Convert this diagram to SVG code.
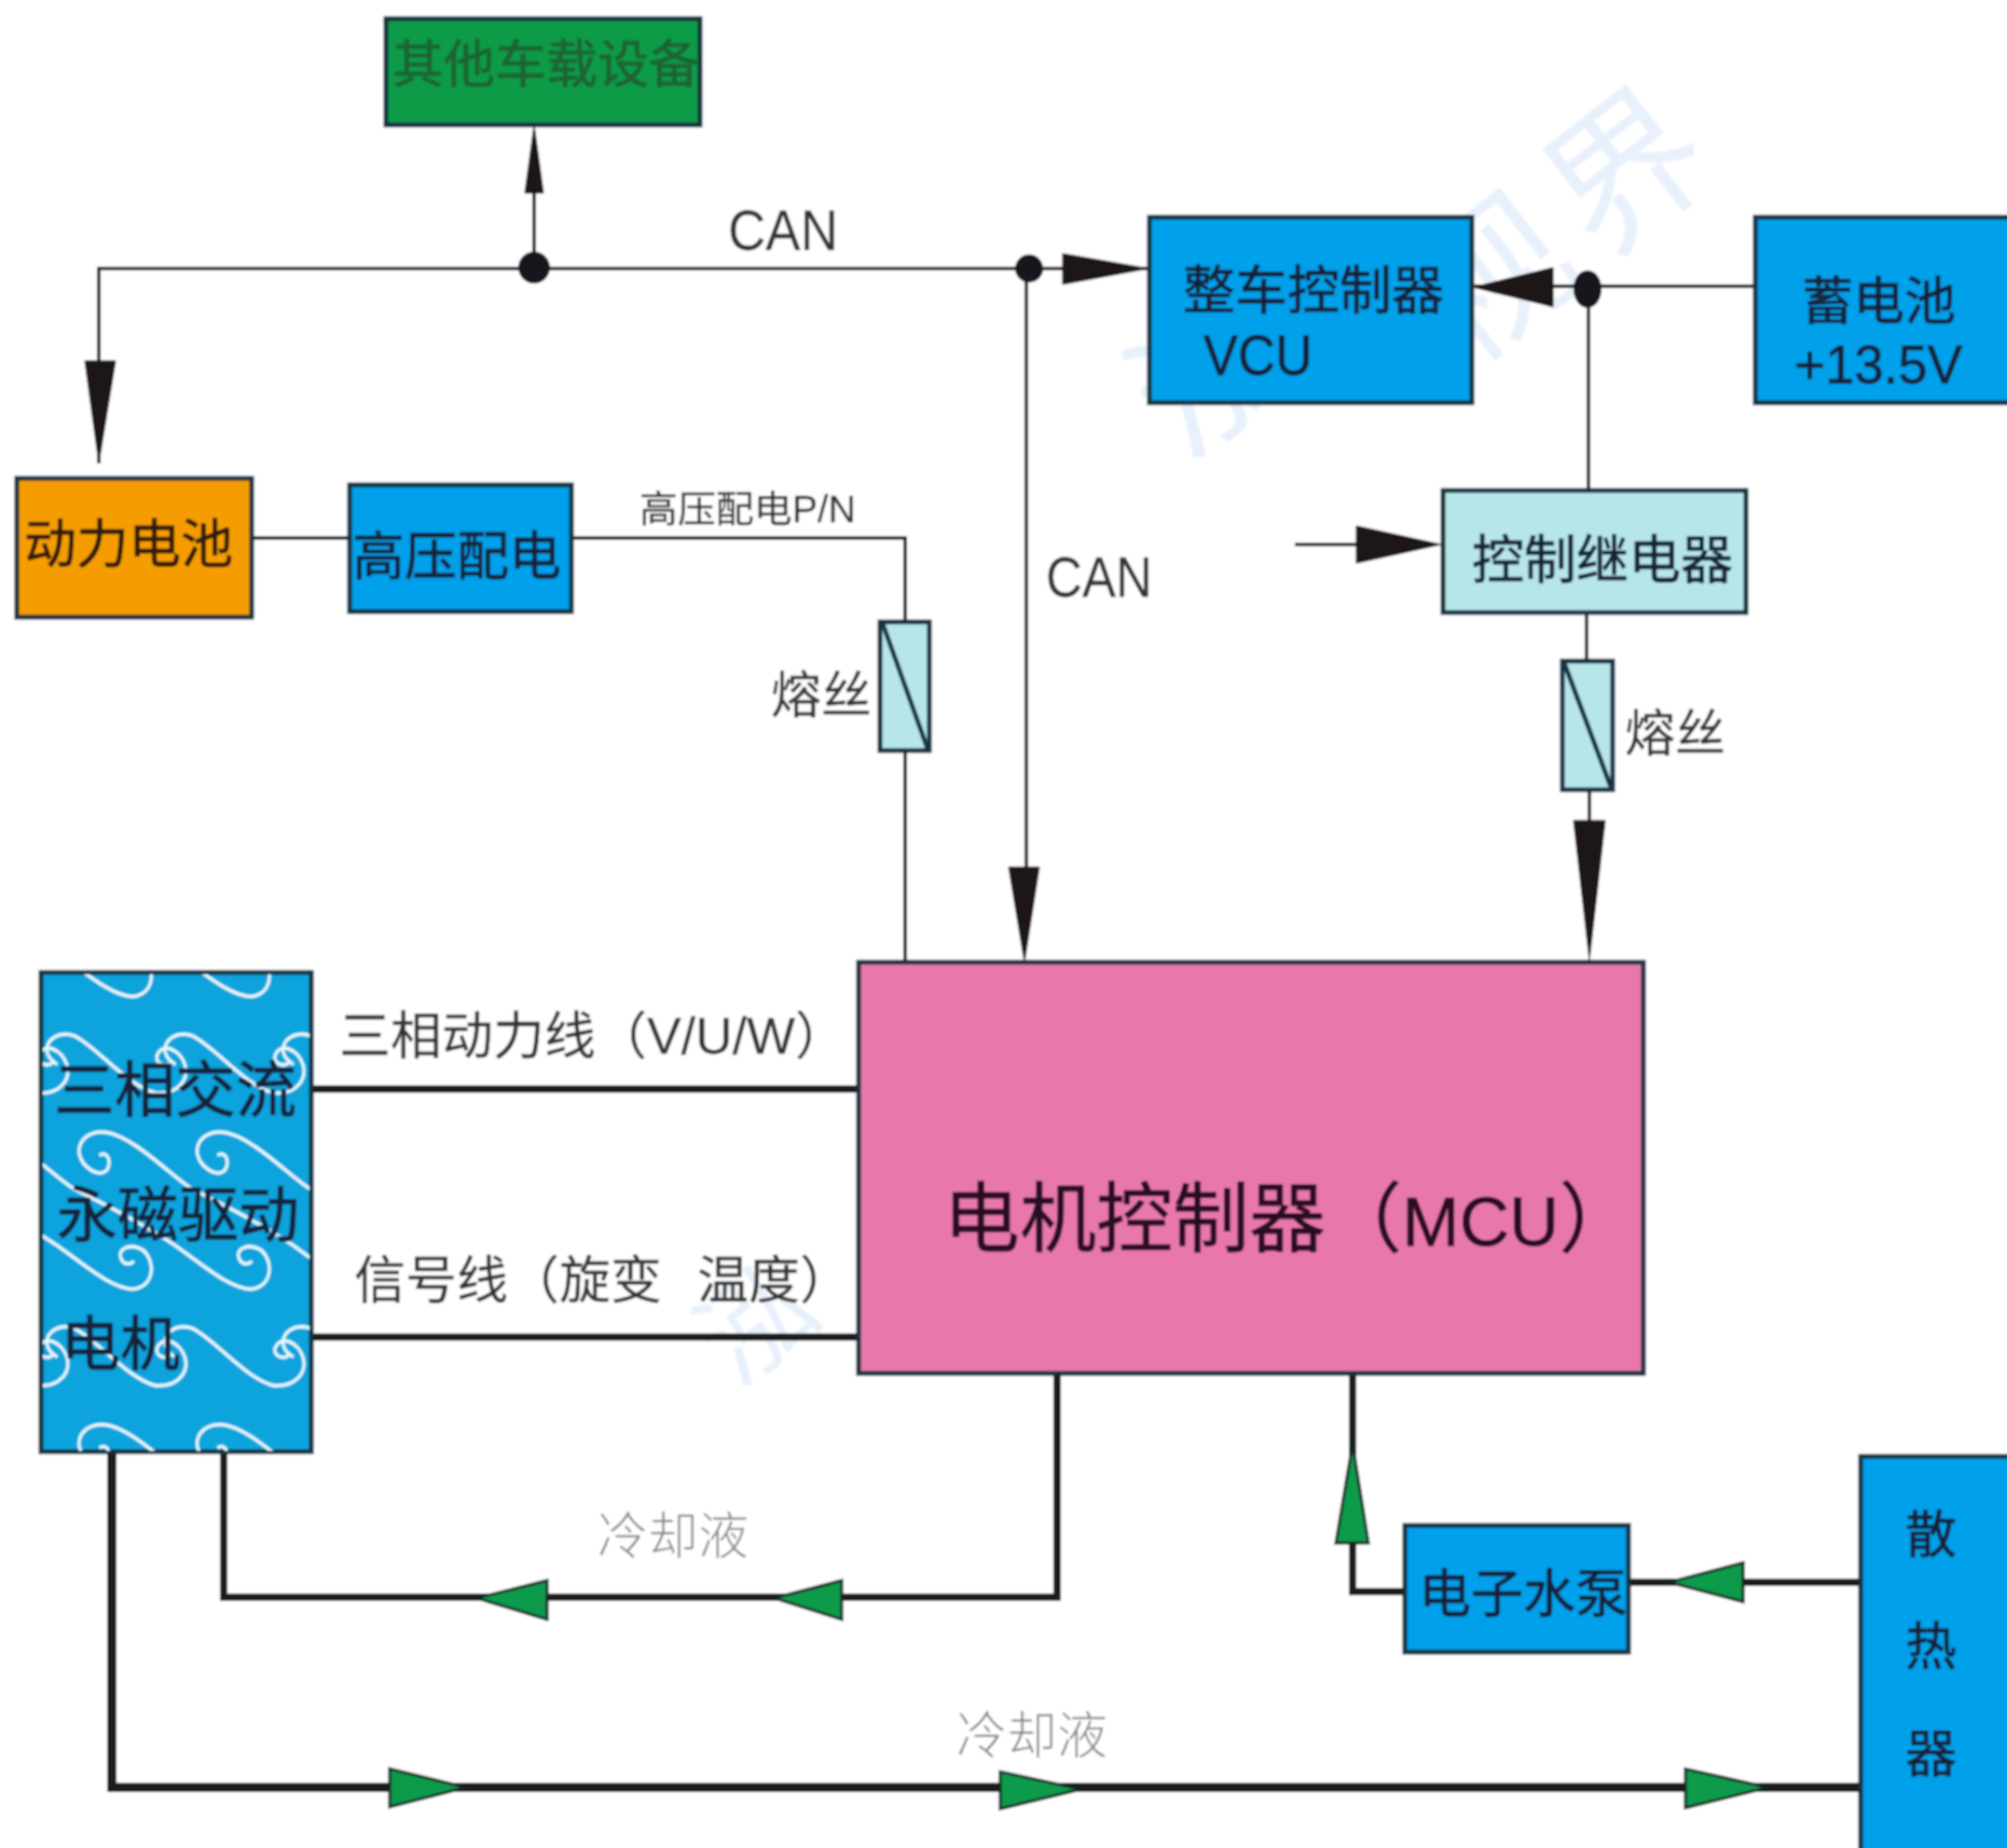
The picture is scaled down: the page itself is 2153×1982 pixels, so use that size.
<svg xmlns="http://www.w3.org/2000/svg" width="2153" height="1982" viewBox="0 0 2153 1982">
<style>
text{font-family:"Liberation Sans","Noto Sans CJK SC",sans-serif;fill:#14233a;stroke:#14233a;stroke-width:.9}
.box{stroke:#17303f;stroke-width:5}
.blue{fill:#04a0ea}
.pale{fill:#b6e6e8}
text.lab{fill:#333;stroke:#333;stroke-width:.3}
text.thin{font-family:"Noto Sans CJK SC",sans-serif;font-weight:300;fill:#8a8a8a;stroke:none}
text.wm{font-family:"Noto Sans CJK SC",sans-serif;font-size:165px;font-weight:400;fill:#e8f1fb;stroke:none}
.w1{fill:none;stroke:#1c1c1c;stroke-width:4}
.w2{fill:none;stroke:#1c1c1c;stroke-width:8}
.w3{fill:none;stroke:#1c1c1c;stroke-width:10}
.ab{fill:#1a1512;stroke:#1a1512;stroke-width:1}
.ag{fill:#0d9a4b;stroke:#16241c;stroke-width:3}
.dot{fill:#15141a}
.sw{fill:none;stroke:#e6f7fd;stroke-width:10}
.fl{fill:none;stroke:#123645;stroke-width:5}
</style>
<defs>
<filter id="soft" x="0" y="0" width="100%" height="100%"><feGaussianBlur stdDeviation="0.9"/></filter>
<clipPath id="motorClip"><rect x="46" y="1045" width="286" height="511"/></clipPath>
<path id="shortS" d="M565,1190C535,1175 520,1150 540,1125C560,1105 590,1100 620,1110C690,1140 790,1250 880,1270C950,1275 990,1235 975,1190C960,1150 905,1125 885,1165C880,1190 915,1200 935,1180"/>
<path id="longS" d="M320,625C345,610 360,640 345,665C320,690 265,660 255,620C250,580 290,555 340,560C430,570 560,690 620,720C760,780 880,840 940,875C1030,930 1120,1000 1190,1000C1260,990 1260,920 1220,890C1180,870 1135,885 1150,915C1160,935 1185,930 1190,920"/>
</defs>
<g filter="url(#soft)">
<rect width="2153" height="1982" fill="#fff"/>
<g id="watermark">
<text class="wm" transform="translate(1271,496) rotate(-38)">泓</text>
<text class="wm" transform="translate(1571,396) rotate(-38)">视</text>
<text class="wm" transform="translate(1716,281) rotate(-38)">界</text>
<text class="wm" font-size="120" style="font-size:120px" transform="translate(790,1490) rotate(-38)">泓</text>
</g>
<g id="connectors">
<path class="w1" d="M106,497V288H1232M573,287V207M1101,288V930M1580,307H1882M1704,310V524M271,577H374M614,577H971V665M971,806V1032M1702,658V707M1705,847V880M1389,584H1455"/>
<path class="w2" d="M335,1168H920M335,1434H920M1134,1475V1713H240V1559M1451,1475V1707H1506M1748,1697H1995"/>
<path class="w3" d="M120,1559V1917H1995"/>
<circle class="dot" cx="573" cy="287" r="17"/>
<circle class="dot" cx="1104" cy="288" r="15"/>
<ellipse class="dot" cx="1703" cy="310" rx="15" ry="20"/>
<path class="ab" d="M573,134L583,207H563Z"/>
<path class="ab" d="M106,497L91,387H124Z"/>
<path class="ab" d="M1232,288L1140,272V305Z"/>
<path class="ab" d="M1580,308L1666,287V329Z"/>
<path class="ab" d="M1099,1032L1082,930H1115Z"/>
<path class="ab" d="M1705,1030L1688,880H1722Z"/>
<path class="ab" d="M1546,584L1455,564V604Z"/>
<path class="ag" d="M511,1714L587,1695V1737Z"/>
<path class="ag" d="M830,1714L903,1695V1737Z"/>
<path class="ag" d="M1451,1548L1433,1655H1468Z"/>
<path class="ag" d="M1790,1697L1870,1676V1718Z"/>
<path class="ag" d="M500,1917L418,1897V1938Z"/>
<path class="ag" d="M1160,1919L1073,1900V1940Z"/>
<path class="ag" d="M1897,1917L1808,1897V1939Z"/>
</g>
<g id="label-can1"><text x="781" y="268" font-size="62" textLength="118" lengthAdjust="spacingAndGlyphs" class="lab">CAN</text></g>
<g id="label-can2"><text x="1122" y="640" font-size="62" textLength="114" lengthAdjust="spacingAndGlyphs" class="lab">CAN</text></g>
<g id="label-hv"><text x="686" y="560" font-size="40" textLength="232" lengthAdjust="spacingAndGlyphs" class="lab">高压配电P/N</text></g>
<g id="label-phase"><text x="364" y="1130" font-size="55" class="lab">三相动力线（V/U/W）</text></g>
<g id="label-signal"><text x="380" y="1392" font-size="55" class="lab">信号线（旋变<tspan x="748">温度）</tspan></text></g>
<g id="label-fuse1"><text x="827" y="765" font-size="54" class="lab">熔丝</text></g>
<g id="label-fuse2"><text x="1743" y="806" font-size="54" class="lab">熔丝</text></g>
<g id="label-coolant1"><text x="641" y="1667" font-size="54" class="thin">冷却液</text></g>
<g id="label-coolant2"><text x="1026" y="1881" font-size="54" class="thin">冷却液</text></g>
<g id="node-other">
<rect class="box" x="414" y="20" width="337" height="114" fill="#0b9b47"/>
<text x="421" y="88" font-size="55" style="fill:#1c6434;stroke:#1c6434">其他车载设备</text>
</g>
<g id="node-vcu">
<rect class="box blue" x="1233" y="233" width="346" height="199"/>
<text x="1269" y="331" font-size="56">整车控制器</text>
<text x="1291" y="402" font-size="62" textLength="117" lengthAdjust="spacingAndGlyphs">VCU</text>
</g>
<g id="node-12v">
<rect class="box blue" x="1883" y="233" width="290" height="199"/>
<text x="1933" y="342" font-size="55">蓄电池</text>
<text x="1925" y="411" font-size="58" textLength="180" lengthAdjust="spacingAndGlyphs">+13.5V</text>
</g>
<g id="node-relay">
<rect class="box pale" x="1548" y="526" width="325" height="131"/>
<text x="1579" y="620" font-size="56">控制继电器</text>
</g>
<g id="node-fuse1">
<rect class="box pale" x="944" y="667" width="53" height="138"/>
<path class="fl" d="M947,669L995,803"/>
</g>
<g id="node-fuse2">
<rect class="box pale" x="1676" y="709" width="54" height="138"/>
<path class="fl" d="M1678,711L1728,844"/>
</g>
<g id="node-battery">
<rect class="box" x="18" y="513" width="252" height="149" fill="#f59c00"/>
<text x="26" y="603" font-size="56" style="fill:#2f1a08;stroke:#2f1a08">动力电池</text>
</g>
<g id="node-hv">
<rect class="box blue" x="375" y="520" width="238" height="136"/>
<text x="378" y="616" font-size="56">高压配电</text>
</g>
<g id="node-motor">
<rect class="box" x="44" y="1043" width="290" height="514" fill="#0ca3dc"/>
<g clip-path="url(#motorClip)"><g class="sw" transform="translate(0,1000) scale(.3333,.3827)">
<use href="#shortS" x="-760"/><use href="#shortS" x="-380"/><use href="#shortS"/><use href="#shortS" x="380"/>
<use href="#shortS" x="-760" y="-820"/><use href="#shortS" x="-380" y="-820"/><use href="#shortS" y="-820"/><use href="#shortS" x="380" y="-820"/>
<use href="#longS" x="-1140"/><use href="#longS" x="-760"/><use href="#longS" x="-380"/><use href="#longS"/><use href="#longS" x="380"/>
<use href="#longS" x="-1140" y="-820"/><use href="#longS" x="-760" y="-820"/><use href="#longS" x="-380" y="-820"/><use href="#longS" y="-820"/><use href="#longS" x="380" y="-820"/>
<use href="#longS" x="-1140" y="820"/><use href="#longS" x="-760" y="820"/><use href="#longS" x="-380" y="820"/><use href="#longS" y="820"/><use href="#longS" x="380" y="820"/>
</g></g>
<text x="58" y="1192" font-size="65">三相交流</text>
<text x="61" y="1326" font-size="65">永磁驱动</text>
<text x="65" y="1464" font-size="64">电机</text>
</g>
<g id="node-mcu">
<rect class="box" x="921" y="1032" width="842" height="441" fill="#e878ac"/>
<text x="1012" y="1336" font-size="82" style="fill:#2a1024;stroke:#2a1024">电机控制器（<tspan font-size="74">MCU</tspan>）</text>
</g>
<g id="node-pump">
<rect class="box blue" x="1507" y="1636" width="240" height="136"/>
<text x="1522" y="1729" font-size="56">电子水泵</text>
</g>
<g id="node-radiator">
<rect class="box blue" x="1996" y="1562" width="180" height="440"/>
<text x="2044" y="1665" font-size="55">散</text>
<text x="2044" y="1785" font-size="55">热</text>
<text x="2044" y="1900" font-size="55">器</text>
</g>
</g>
</svg>
